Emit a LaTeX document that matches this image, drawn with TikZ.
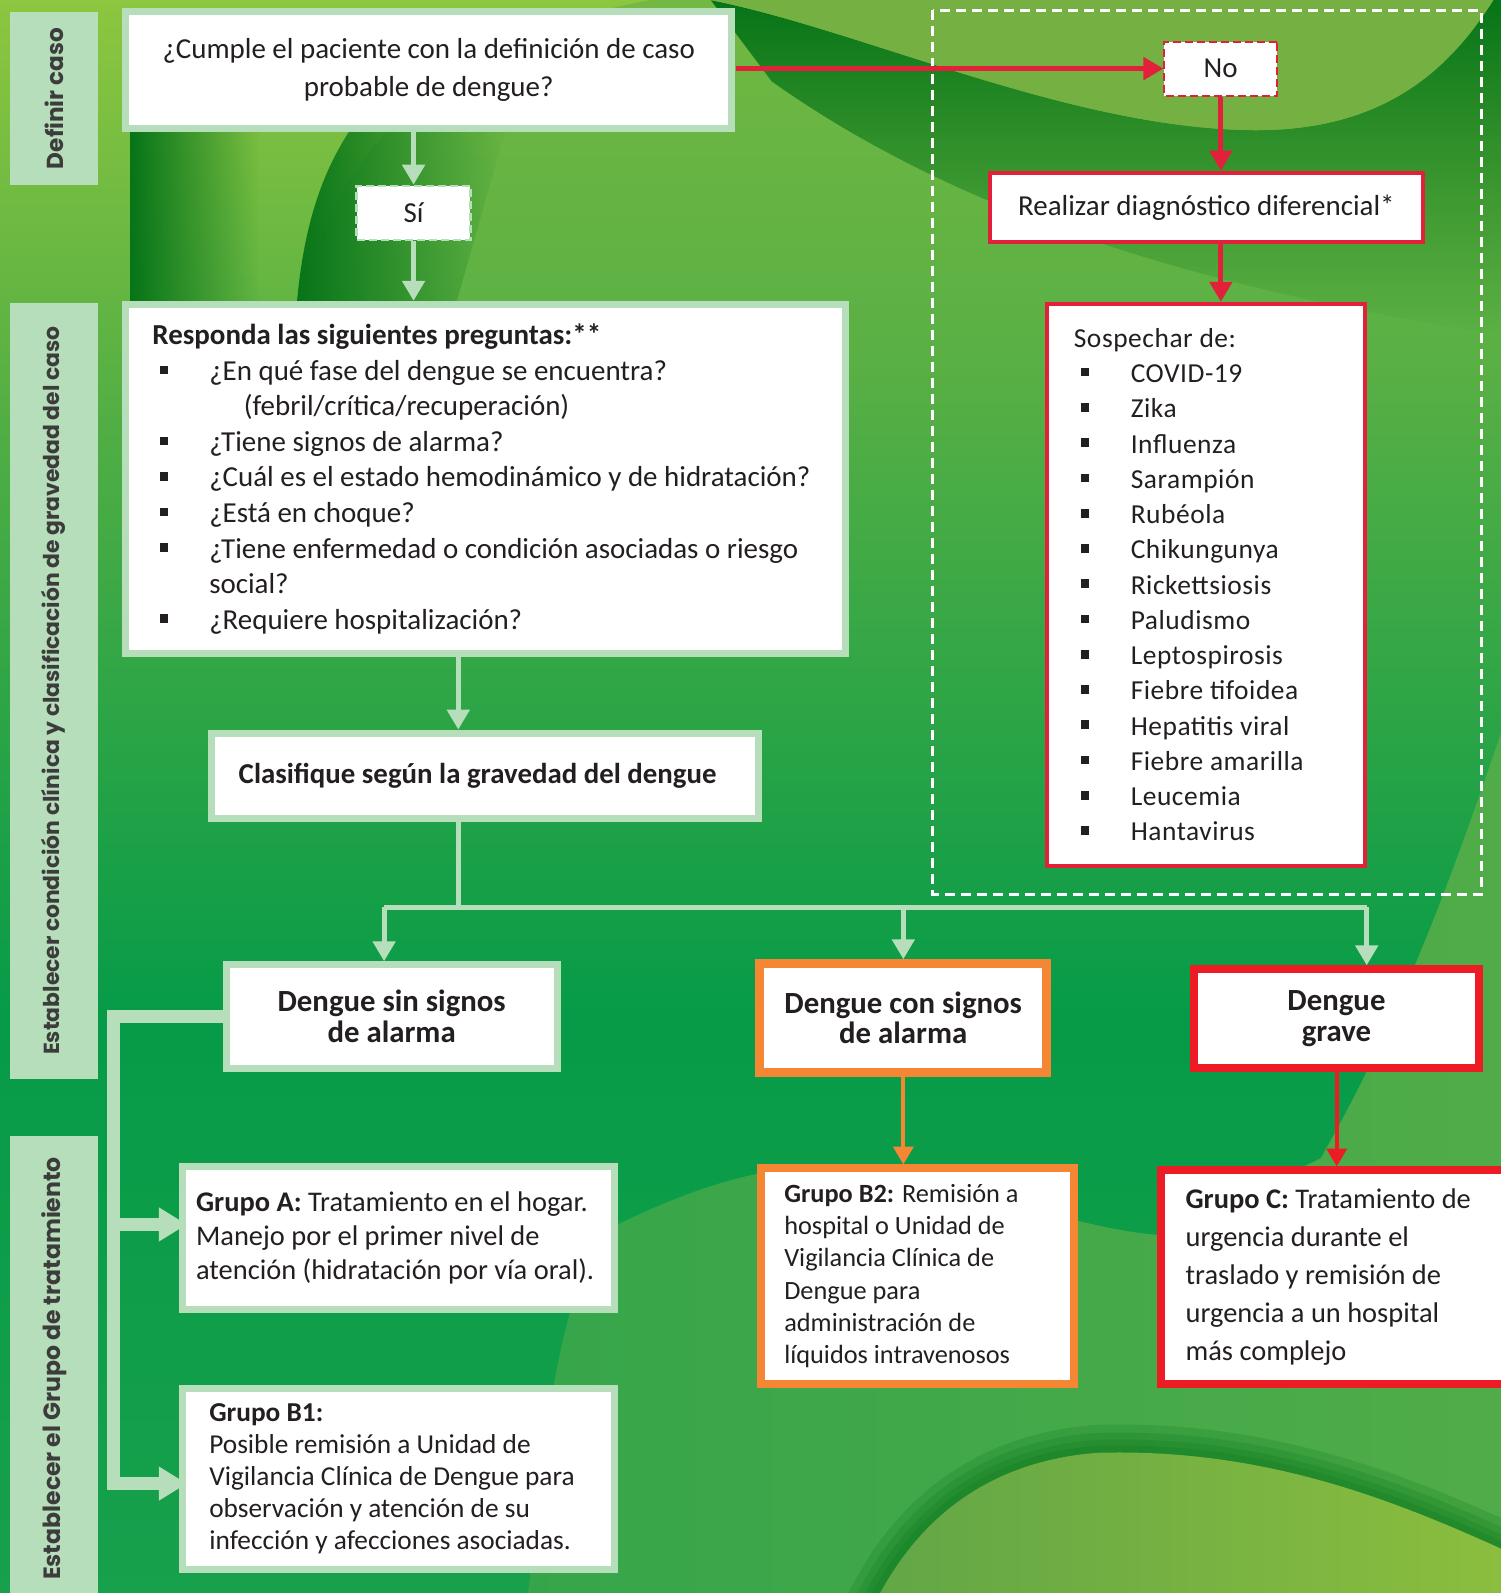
\documentclass[tikz,border=0pt]{standalone}
\usepackage{fontspec}
\setmainfont{Carlito}
\newfontfamily\sidefont{Poppins}
\newfontfamily\listfont{Carlito}[LetterSpace=2]
\usetikzlibrary{arrows.meta,fadings}

\definecolor{mint}{RGB}{183,222,186}
\definecolor{ink}{RGB}{35,31,32}
\definecolor{sideink}{RGB}{60,60,60}
\definecolor{ired}{RGB}{226,32,58}
\definecolor{bred}{RGB}{237,28,36}
\definecolor{iorange}{RGB}{245,134,52}
\definecolor{bglight}{RGB}{141,198,63}
\definecolor{bgolive}{RGB}{116,176,66}
\definecolor{bgdark}{RGB}{6,116,24}
\definecolor{bgtop}{RGB}{114,184,66}
\definecolor{bgupper}{RGB}{90,176,68}
\definecolor{bgleft}{RGB}{81,174,68}
\definecolor{bggreen}{RGB}{6,155,72}
\definecolor{bgbot}{RGB}{24,160,76}
\definecolor{bghill}{RGB}{54,165,74}
\definecolor{bgsoft}{RGB}{80,172,72}
\definecolor{bgmoss}{RGB}{98,166,70}
\definecolor{bglime}{RGB}{140,190,62}

\tikzfading[name=fade right, left color=transparent!0, right color=transparent!100]
\tikzfading[name=fade down, top color=transparent!0, bottom color=transparent!100]

\newcommand{\itm}{\makebox[56pt][l]{\hspace{7pt}\rule[6pt]{8pt}{8.5pt}}}

\begin{document}
\begin{tikzpicture}[x=1pt,y=-1pt,scale=1.016,transform shape,
    box/.style={draw=mint, line width=7pt, fill=white, inner sep=0pt, text=ink, align=center},
    leftbox/.style={box, align=flush left},
    sidelabel/.style={fill=mint, rotate=90, minimum height=86pt, inner sep=0pt,
        text=sideink, font=\sidefont\bfseries\fontsize{22.8}{26}\selectfont},
    mintline/.style={draw=mint, line width=5pt},
    mintarrow/.style={mintline, -{Triangle[width=22pt,length=20pt]}},
    railarrow/.style={draw=mint, line width=13pt, -{Triangle[width=32pt,length=28pt]}},
    redarrow/.style={draw=ired, line width=5pt, -{Triangle[width=22pt,length=20pt]}},
    orangearrow/.style={draw=iorange, line width=4pt, -{Triangle[width=20pt,length=18pt]}},
    gravearrow/.style={draw=bred, line width=4pt, -{Triangle[width=20pt,length=18pt]}}]

    % background
    \useasboundingbox (0,0) rectangle (1477.4,1568);
    \clip (0,0) rectangle (1477.4,1568);
    \shade[top color=bgtop, bottom color=bgupper] (0,0) rectangle (1478,351);
    \shade[top color=bgupper, bottom color=bggreen] (0,350) rectangle (1478,1001);
    \shade[top color=bggreen, bottom color=bgbot] (0,1000) rectangle (1478,1568);
    % light corner and the two dark arches
    \shade[top color=bglight, bottom color=bgleft] (0,0) -- (640,0) .. controls (420,40) and (310,170) .. (290,330)
        -- (120,330) -- (120,420) -- (0,420) -- cycle;
    \fill[bgdark, path fading=fade right] (128,90) rectangle (255,330);
    \fill[bgdark, path fading=fade right] (290,330) .. controls (295,230) and (315,170) .. (350,120)
        -- (500,120) -- (440,330) -- cycle;
    % wave at the top right
    \fill[bgdark, path fading=fade down] (700,0) .. controls (850,30) and (1050,125) .. (1230,128)
        .. controls (1350,130) and (1420,80) .. (1470,0) -- (1478,0) -- (1478,330)
        .. controls (1300,300) and (1000,250) .. (760,80) -- cycle;
    \fill[bgolive] (700,0) .. controls (850,30) and (1050,125) .. (1230,128)
        .. controls (1350,130) and (1420,80) .. (1470,0) -- cycle;
    % hills at the bottom
    \shade[left color=bghill, right color=bgsoft] (1478,720) .. controls (1430,860) and (1380,1000) .. (1300,1140)
        -- (1146,1216) .. controls (1050,1210) and (950,1160) .. (850,1150)
        .. controls (760,1140) and (680,1170) .. (600,1209) .. controls (560,1260) and (540,1350) .. (520,1568)
        -- (1478,1568) -- cycle;
    \foreach \w in {56,40,26,14}
        \draw[bgdark, line width=\w pt, opacity=0.2] (860,1580) .. controls (890,1520) and (950,1440) .. (1080,1430)
            .. controls (1250,1425) and (1380,1480) .. (1490,1530);
    \shade[left color=bgmoss, right color=bglime] (860,1580) .. controls (890,1520) and (950,1440) .. (1080,1430)
        .. controls (1250,1425) and (1380,1480) .. (1490,1530) -- (1490,1580) -- cycle;

    % side labels
    \node[sidelabel, minimum width=170pt] (lblcaso) at (53,97) {Definir caso};
    \node[sidelabel, minimum width=764pt, font=\sidefont\bfseries\fontsize{21.5}{26}\selectfont] (lblgrav)
        at (53,680) {Establecer condición clínica y clasificación de gravedad del caso};
    \node[sidelabel, minimum width=458pt, font=\sidefont\bfseries\fontsize{23.2}{26}\selectfont] (lbltrat)
        at (53,1347) {Establecer el Grupo de tratamiento};

    % dashed frame of the other branch
    \draw[white, line width=3pt, dash pattern=on 10pt off 6pt] (918,10) rectangle (1458,880);

    % definition of the case
    \node[box, minimum width=597pt, minimum height=115pt, font=\fontsize{28.5}{37}\selectfont] (q1) at (422,69)
        {¿Cumple el paciente con la definición de caso\\probable de dengue?};
    \node[box, line width=2.5pt, dash pattern=on 8pt off 4pt, minimum width=112pt, minimum height=53pt,
        font=\fontsize{28.5}{30}\selectfont] (si) at (407,209.5) {Sí};
    \node[box, draw=ired, line width=2pt, dash pattern=on 8pt off 4pt, minimum width=111pt, minimum height=53pt,
        font=\fontsize{28.5}{30}\selectfont] (no) at (1201.5,67.5) {No};

    % questions
    \node[leftbox, minimum width=709pt, minimum height=344pt, text width=656pt,
        font=\fontsize{28.5}{35}\selectfont] (q2) at (478,471.5)
        {\textbf{Responda las siguientes preguntas:**}\\
        \itm ¿En qué fase del dengue se encuentra?\\
        \hspace*{90pt}(febril/crítica/recuperación)\\
        \itm ¿Tiene signos de alarma?\\
        \itm ¿Cuál es el estado hemodinámico y de hidratación?\\
        \itm ¿Está en choque?\\
        \itm ¿Tiene enfermedad o condición asociadas o riesgo\\
        \hspace*{56pt}social?\\
        \itm ¿Requiere hospitalización?};
    \node[leftbox, minimum width=538pt, minimum height=84pt, text width=485pt,
        font=\bfseries\fontsize{28.4}{30}\selectfont] (clas) at (477.5,763.5) {Clasifique según la gravedad del dengue};

    % differential diagnosis
    \node[box, draw=ired, line width=4pt, minimum width=427pt, minimum height=68pt,
        font=\fontsize{28.5}{30}\selectfont] (real) at (1187.5,204) {Realizar diagnóstico diferencial*};
    \node[leftbox, draw=ired, line width=4pt, minimum width=313pt, minimum height=553pt, text width=261pt,
        font=\listfont\fontsize{27}{34.7}\selectfont] (sosp) at (1187.5,575.5)
        {Sospechar de:\\ \itm COVID-19\\ \itm Zika\\ \itm Influenza\\ \itm Sarampión\\ \itm Rubéola\\
        \itm Chikungunya\\ \itm Rickettsiosis\\ \itm Paludismo\\ \itm Leptospirosis\\ \itm Fiebre tifoidea\\
        \itm Hepatitis viral\\ \itm Fiebre amarilla\\ \itm Leucemia\\ \itm Hantavirus};

    % classification
    \node[box, minimum width=326pt, minimum height=102pt, font=\bfseries\fontsize{30.3}{30}\selectfont] (dsin)
        at (385.5,1000.5) {Dengue sin signos\\de alarma};
    \node[box, draw=iorange, line width=9pt, minimum width=283pt, minimum height=107pt,
        font=\bfseries\fontsize{30.3}{30}\selectfont] (dcon) at (889,1002) {Dengue con signos\\de alarma};
    \node[box, draw=bred, line width=8pt, minimum width=281pt, minimum height=97pt,
        font=\bfseries\fontsize{30.3}{30}\selectfont] (dgrave) at (1315.5,1002.5) {Dengue\\grave};

    % treatment groups
    \node[leftbox, minimum width=425pt, minimum height=140pt, text width=398pt,
        font=\fontsize{28}{33.5}\selectfont] (ga) at (392,1218.5)
        {\textbf{Grupo A:} Tratamiento en el hogar.\\Manejo por el primer nivel de\\atención (hidratación por vía oral).};
    \node[leftbox, minimum width=425pt, minimum height=178pt, text width=372pt,
        font=\fontsize{26.9}{31.5}\selectfont] (gb1) at (392,1455.5)
        {\textbf{Grupo B1:}\\Posible remisión a Unidad de\\Vigilancia Clínica de Dengue para\\observación y atención de su\\infección y afecciones asociadas.};
    \node[leftbox, draw=iorange, line width=8pt, minimum width=308pt, minimum height=212pt, text width=262pt,
        font=\fontsize{25.9}{31.6}\selectfont] (gb2) at (903,1256)
        {\textbf{Grupo B2:} Remisión a\\hospital o Unidad de\\Vigilancia Clínica de\\Dengue para\\administración de\\líquidos intravenosos};
    \node[leftbox, draw=bred, line width=8pt, minimum width=383pt, minimum height=210pt, text width=335pt,
        font=\fontsize{28}{37.5}\selectfont] (gc) at (1334.5,1257)
        {\textbf{Grupo C:} Tratamiento de\\urgencia durante el\\traslado y remisión de\\urgencia a un hospital\\más complejo};

    % junctions
    \coordinate (branch) at (451,893);
    \coordinate (bl) at (378,893);
    \coordinate (br) at (1345,893);
    \coordinate (raila) at (112,1205);
    \coordinate (railb) at (112,1460);

    % yes / no
    \draw[mintarrow] (q1.south -| si) -- (si.north);
    \draw[mintarrow] (si.south) -- (si.south |- q2.north);
    \draw[redarrow] (q1.east |- no) -- (no.west);
    \draw[redarrow] (no.south) -- (no.south |- real.north);
    \draw[redarrow] (real.south -| no) -- (sosp.north -| no);

    % towards the classification
    \draw[mintarrow] (q2.south -| branch) -- (clas.north -| branch);
    \draw[mintline] (clas.south -| branch) -- (branch);
    \draw[mintline] (bl) -- (br);
    \draw[mintarrow] (bl) -- (bl |- dsin.north);
    \draw[mintarrow] (branch -| dcon) -- (dcon.north);
    \draw[mintarrow] (br) -- (br |- dgrave.north);

    % towards the groups
    \draw[railarrow] (dsin.west) -| (railb) -- ([xshift=8pt]railb -| gb1.west);
    \draw[railarrow] (raila) -- ([xshift=8pt]raila -| ga.west);
    \draw[orangearrow] (dcon.south) -- (dcon.south |- gb2.north);
    \draw[gravearrow] (dgrave.south) -- (dgrave.south |- gc.north);
\end{tikzpicture}
\end{document}
